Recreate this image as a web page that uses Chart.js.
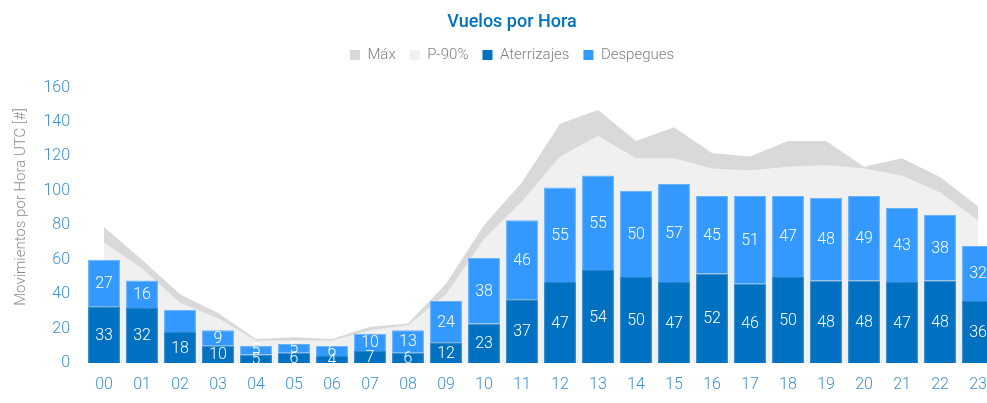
<!DOCTYPE html>
<html lang="es">
<head>
<meta charset="utf-8">
<title>Vuelos por Hora</title>
<script src="https://cdn.jsdelivr.net/npm/chart.js@4.4.1/dist/chart.umd.min.js"></script>
<style>
  html, body { margin: 0; padding: 0; background: #fff; overflow: hidden; }
  #wrap { position: relative; width: 1024px; height: 403px; }
</style>
</head>
<body>
<div id="wrap"><canvas id="chart-vuelos"></canvas></div>
<script>
// Movimientos por hora UTC: aterrizajes + despegues apilados, con máximo y P-90 de fondo.

const HOURS = ['00', '01', '02', '03', '04', '05', '06', '07', '08', '09', '10', '11',
  '12', '13', '14', '15', '16', '17', '18', '19', '20', '21', '22', '23'];
const ATERRIZAJES = [33, 32, 18, 10, 5, 6, 4, 7, 6, 12, 23, 37, 47, 54, 50, 47, 52, 46, 50, 48, 48, 47, 48, 36];
const DESPEGUES = [27, 16, 13, 9, 5, 5, 6, 10, 13, 24, 38, 46, 55, 55, 50, 57, 45, 51, 47, 48, 49, 43, 38, 32];
const MAXIMO = [79, 60, 40, 29, 14, 15, 14, 21, 23, 46, 80, 105, 139, 147, 129, 137, 122, 120, 129, 129, 114, 119, 108, 91];
const P90 = [70, 55, 35, 26, 13, 13, 13, 19, 22, 40, 72, 94, 120, 132, 119, 119, 113, 112, 114, 115, 113, 109, 99, 83];
const Y_TICKS = [0, 20, 40, 60, 80, 100, 120, 140, 160];
// labels the original leaves out
const HIDE_DESP_LABEL = ['02'];

const FONT = 'Roboto, "Open Sans", Arial, sans-serif';
const BLUE_DARK = '#0070C0';
const BLUE_LIGHT = '#3399FF';
const TICK_BLUE = '#3d8fd4';

Chart.defaults.font.family = FONT;

// white numbers in the middle of each stacked segment
const segmentLabels = {
  id: 'segmentLabels',
  afterDatasetsDraw(chart) {
    const { ctx, chartArea } = chart;
    ctx.save();
    ctx.beginPath();
    ctx.rect(chartArea.left, chartArea.top, chartArea.right - chartArea.left, chartArea.bottom - chartArea.top);
    ctx.clip();
    ctx.fillStyle = '#ffffff';
    ctx.font = '300 16px ' + FONT;
    ctx.textAlign = 'center';
    ctx.textBaseline = 'middle';
    chart.data.datasets.forEach((ds, i) => {
      if (ds.type !== 'bar') return;
      const meta = chart.getDatasetMeta(i);
      meta.data.forEach((bar, j) => {
        if (ds.label === 'Despegues' && HIDE_DESP_LABEL.includes(HOURS[j])) return;
        const mid = (bar.y + bar.base) / 2;
        ctx.fillText(String(ds.data[j]), bar.x, mid + 1);
      });
    });
    ctx.restore();
  }
};

// axis title, placed where the original has it
const yTitle = {
  id: 'yTitle',
  afterDraw(chart) {
    const { ctx } = chart;
    ctx.save();
    ctx.translate(21, 207);
    ctx.rotate(-Math.PI / 2);
    ctx.fillStyle = '#8c8c8c';
    ctx.font = '300 15px ' + FONT;
    ctx.textAlign = 'center';
    ctx.textBaseline = 'middle';
    ctx.fillText('Movimientos por Hora UTC [#]', 0, 0);
    ctx.restore();
  }
};

// extra room between legend and plot
const legendGap = {
  id: 'legendGap',
  beforeInit(chart) {
    const fit = chart.legend.fit;
    chart.legend.fit = function () {
      fit.bind(chart.legend)();
      this.height += 15;
    };
  }
};

new Chart(document.getElementById('chart-vuelos'), {
  data: {
    labels: HOURS,
    datasets: [
      {
        type: 'line', label: 'Máx', data: MAXIMO, stack: 'max', order: 2,
        fill: 'origin', backgroundColor: '#d9d9d9', borderWidth: 0, pointRadius: 0, tension: 0
      },
      {
        type: 'line', label: 'P-90%', data: P90, stack: 'p90', order: 1,
        fill: 'origin', backgroundColor: '#f0f0f0', borderWidth: 0, pointRadius: 0, tension: 0
      },
      {
        type: 'bar', label: 'Aterrizajes', data: ATERRIZAJES, stack: 'mov', order: 0,
        backgroundColor: BLUE_DARK, borderColor: '#2a86cc', borderWidth: 1,
        categoryPercentage: 1, barPercentage: 0.84
      },
      {
        type: 'bar', label: 'Despegues', data: DESPEGUES, stack: 'mov', order: 0,
        backgroundColor: BLUE_LIGHT, borderColor: '#66b2ff', borderWidth: 1,
        categoryPercentage: 1, barPercentage: 0.84
      }
    ]
  },
  options: {
    responsive: true,
    maintainAspectRatio: false,
    animation: false,
    layout: { padding: { top: 0, right: 27, bottom: 0, left: 27 } },
    plugins: {
      title: {
        display: true,
        text: 'Vuelos por Hora',
        color: BLUE_DARK,
        font: { size: 18, weight: '500' },
        padding: { top: 12, bottom: 0 }
      },
      legend: {
        display: true,
        position: 'top',
        labels: {
          color: '#7f7f7f',
          font: { size: 15, weight: '300' },
          boxWidth: 10,
          boxHeight: 10,
          padding: 14,
          sort: (a, b) => a.datasetIndex - b.datasetIndex,
          generateLabels: (chart) => chart.data.datasets.map((ds, i) => ({
            text: ds.label,
            fillStyle: ds.backgroundColor,
            strokeStyle: ds.backgroundColor,
            lineWidth: 0,
            fontColor: '#7f7f7f',
            datasetIndex: i
          }))
        }
      },
      tooltip: { enabled: false }
    },
    scales: {
      x: {
        stacked: true,
        afterFit: (scale) => { scale.height = 40; },
        grid: { display: false, drawTicks: false },
        border: { display: false },
        ticks: { color: TICK_BLUE, font: { size: 16, weight: '300' }, padding: 12, maxRotation: 0 }
      },
      y: {
        stacked: true,
        min: 0,
        max: 160,
        afterBuildTicks: (scale) => { scale.ticks = Y_TICKS.map(v => ({ value: v })); },
        afterFit: (scale) => { scale.width = 58; },
        grid: { display: false, drawTicks: false },
        border: { display: false },
        ticks: { color: TICK_BLUE, font: { size: 16, weight: '300' }, padding: 15 }
      }
    }
  },
  plugins: [segmentLabels, yTitle, legendGap]
});
</script>
</body>
</html>
